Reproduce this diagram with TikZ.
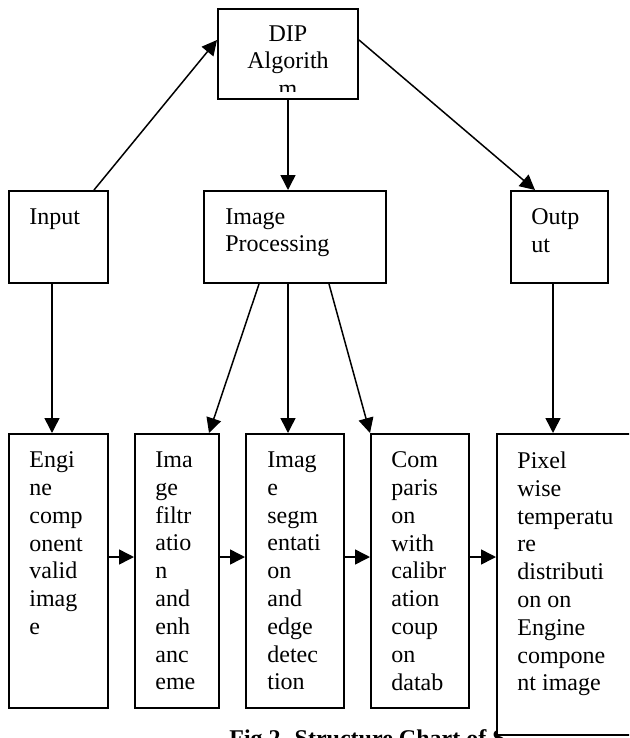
\documentclass[tikz,border=0pt]{standalone}
\usepackage{fontspec}
\setmainfont{Liberation Serif}
\usetikzlibrary{arrows.meta}
\tikzset{
    box/.style={
        draw,
        line width=1pt,
        fill=white,
        anchor=north west,
        inner sep=0pt},
    boxtext/.style={
        anchor=north west,
        align=left,
        inner sep=0pt,
        font=\fontsize{12}{13.9}\selectfont},
    every edge/.style={
        draw,
        -{Triangle[length=7.5pt,width=7.5pt]},
        line width=0.75pt}}

\begin{document}
\begin{tikzpicture}[x=0.5pt,y=-0.5pt]
        \clip (0,0) rectangle (629,738);
        \fill[white] (0,0) rectangle (629,738);

        % top row
        \node[box,minimum width=70pt,minimum height=45pt] (dip) at (217,8) {};
        \node[box,minimum width=49.5pt,minimum height=46pt] (input) at (8,190) {};
        \node[box,minimum width=91pt,minimum height=46pt] (imgproc) at (203,190) {};
        \node[box,minimum width=48.5pt,minimum height=46pt] (output) at (510,190) {};

        \begin{scope}
            \clip (dip.north west) rectangle ([yshift=4pt]dip.south east);
            \node[boxtext,anchor=north,align=center] (dip-t) at ([yshift=-8.5pt]dip.north) {DIP\\Algorith\\m};
        \end{scope}
        \node[boxtext] (input-t) at ([shift={(10.5pt,-9pt)}]input.north west) {Input};
        \node[boxtext] (imgproc-t) at ([shift={(11pt,-9pt)}]imgproc.north west) {Image\\Processing};
        \node[boxtext] (output-t) at ([shift={(10.5pt,-9pt)}]output.north west) {Outp\\ut};

        % bottom row
        \node[box,minimum width=49.5pt,minimum height=137pt] (engine) at (8,433) {};
        \node[box,minimum width=42pt,minimum height=137pt] (filter) at (134,433) {};
        \node[box,minimum width=49pt,minimum height=137pt] (segment) at (245,433) {};
        \node[box,minimum width=49pt,minimum height=137pt] (compare) at (370,433) {};

        \node[anchor=base west,inner sep=0pt,font=\fontsize{12}{13.9}\selectfont\bfseries] (caption) at (229,746) {Fig 2. Structure Chart of S};

        \node[box,minimum width=72pt,minimum height=150.5pt] (pixel) at (496,433) {};

        \node[boxtext] (engine-t) at ([shift={(10.5pt,-9.2pt)}]engine.north west) {Engi\\ne\\comp\\onent\\valid\\imag\\e};
        \node[boxtext] (filter-t) at ([shift={(10.5pt,-9.2pt)}]filter.north west) {Ima\\ge\\filtr\\atio\\n\\and\\enh\\anc\\eme};
        \node[boxtext] (segment-t) at ([shift={(11pt,-9.2pt)}]segment.north west) {Imag\\e\\segm\\entati\\on\\and\\edge\\detec\\tion};
        \node[boxtext] (compare-t) at ([shift={(10.5pt,-9.2pt)}]compare.north west) {Com\\paris\\on\\with\\calibr\\ation\\coup\\on\\datab};
        \node[boxtext] (pixel-t) at ([shift={(10.5pt,-9.2pt)}]pixel.north west) {Pixel\\wise\\temperatu\\re\\distributi\\on on\\Engine\\compone\\nt image};

        % connectors
        \draw ([xshift=-7.5pt]input.north east) edge ([yshift=7pt]dip.west);
        \draw ([yshift=7pt]dip.east) edge ([xshift=12.5pt]output.north west);
        \draw (dip.south) edge (dip.south |- imgproc.north);

        \draw ([xshift=-3.25pt]input.south) edge ([xshift=-3.25pt]engine.north);
        \draw ([xshift=28pt]imgproc.south west) edge ([xshift=-5.5pt]filter.north east);
        \draw (dip.south |- imgproc.south) edge (dip.south |- segment.north);
        \draw ([xshift=63pt]imgproc.south west) edge (compare.north west);
        \draw ([xshift=-3.25pt]output.south) edge ([xshift=-3.25pt]output.south |- pixel.north);

        \draw ([yshift=7pt]engine.east) edge ([yshift=7pt]filter.west);
        \draw ([yshift=7pt]filter.east) edge ([yshift=7pt]segment.west);
        \draw ([yshift=7pt]segment.east) edge ([yshift=7pt]compare.west);
        \draw ([yshift=7pt]compare.east) edge ([yshift=7pt]compare.east -| pixel.west);
\end{tikzpicture}
\end{document}
